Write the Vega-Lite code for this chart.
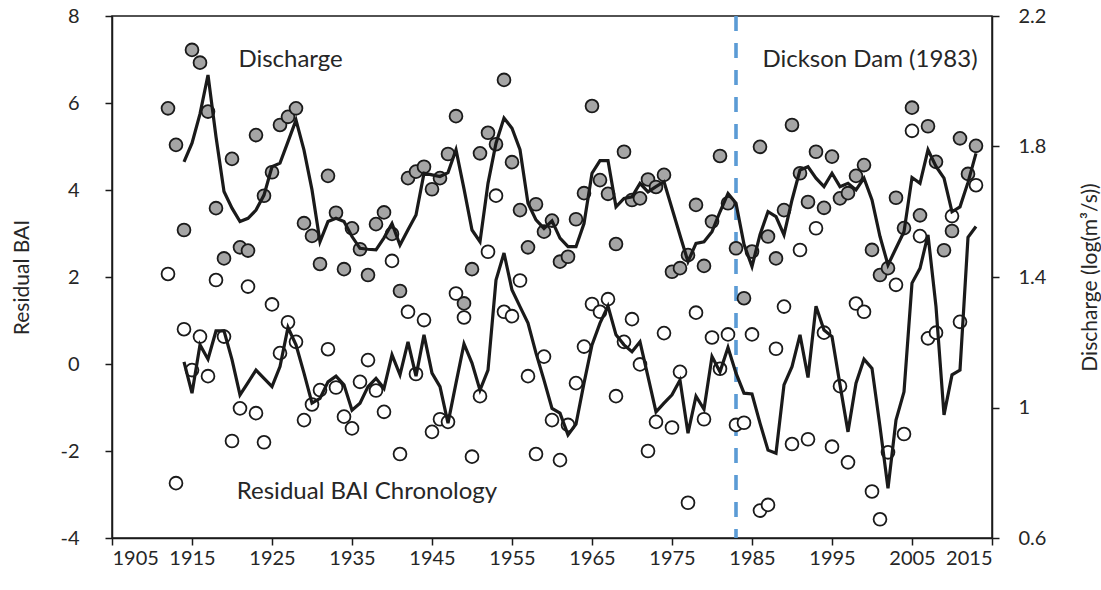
{
  "$schema": "https://vega.github.io/schema/vega-lite/v6.json",
  "width": 880,
  "height": 522,
  "autosize": "none",
  "padding": {"left": 112, "top": 16, "right": 109, "bottom": 52},
  "background": "white",
  "config": {
    "view": {"stroke": "#1a1a1a", "strokeWidth": 1.5},
    "font": "Lato",
    "scale": {"zero": false},
    "axis": {"grid": false, "domainColor": "#1a1a1a", "domainWidth": 1.5, "tickColor": "#1a1a1a", "tickWidth": 1.5, "tickSize": 7, "labelFont": "Lato", "labelFontSize": 20, "labelColor": "#262626", "titleFont": "Lato", "titleFontSize": 21, "titleFontWeight": "normal", "titleColor": "#262626"}
  },
  "datasets": {
    "bai": [
      {"year":1912,"bai":2.07},{"year":1913,"bai":-2.74},{"year":1914,"bai":0.80},{"year":1915,"bai":-0.14},{"year":1916,"bai":0.63},{"year":1917,"bai":-0.28},{"year":1918,"bai":1.93},{"year":1919,"bai":0.63},{"year":1920,"bai":-1.77},{"year":1921,"bai":-1.02},{"year":1922,"bai":1.78},{"year":1923,"bai":-1.13},{"year":1924,"bai":-1.80},{"year":1925,"bai":1.37},{"year":1926,"bai":0.25},{"year":1927,"bai":0.96},{"year":1928,"bai":0.51},{"year":1929,"bai":-1.29},{"year":1930,"bai":-0.93},{"year":1931,"bai":-0.60},{"year":1932,"bai":0.34},{"year":1933,"bai":-0.54},{"year":1934,"bai":-1.21},{"year":1935,"bai":-1.48},{"year":1936,"bai":-0.41},{"year":1937,"bai":0.09},{"year":1938,"bai":-0.61},{"year":1939,"bai":-1.10},{"year":1940,"bai":2.37},{"year":1941,"bai":-2.07},{"year":1942,"bai":1.20},{"year":1943,"bai":-0.23},{"year":1944,"bai":1.01},{"year":1945,"bai":-1.56},{"year":1946,"bai":-1.27},{"year":1947,"bai":-1.33},{"year":1948,"bai":1.62},{"year":1949,"bai":1.07},{"year":1950,"bai":-2.13},{"year":1951,"bai":-0.74},{"year":1952,"bai":2.58},{"year":1953,"bai":3.87},{"year":1954,"bai":1.20},{"year":1955,"bai":1.10},{"year":1956,"bai":1.92},{"year":1957,"bai":-0.28},{"year":1958,"bai":-2.07},{"year":1959,"bai":0.17},{"year":1960,"bai":-1.29},{"year":1961,"bai":-2.21},{"year":1962,"bai":-1.40},{"year":1963,"bai":-0.44},{"year":1964,"bai":0.40},{"year":1965,"bai":1.38},{"year":1966,"bai":1.20},{"year":1967,"bai":1.49},{"year":1968,"bai":-0.74},{"year":1969,"bai":0.51},{"year":1970,"bai":1.03},{"year":1971,"bai":-0.01},{"year":1972,"bai":-2.00},{"year":1973,"bai":-1.33},{"year":1974,"bai":0.71},{"year":1975,"bai":-1.46},{"year":1976,"bai":-0.18},{"year":1977,"bai":-3.19},{"year":1978,"bai":1.18},{"year":1979,"bai":-1.27},{"year":1980,"bai":0.61},{"year":1981,"bai":-0.11},{"year":1982,"bai":0.68},{"year":1983,"bai":-1.40},{"year":1984,"bai":-1.35},{"year":1985,"bai":0.68},{"year":1986,"bai":-3.37},{"year":1987,"bai":-3.24},{"year":1988,"bai":0.35},{"year":1989,"bai":1.32},{"year":1990,"bai":-1.84},{"year":1991,"bai":2.62},{"year":1992,"bai":-1.73},{"year":1993,"bai":3.12},{"year":1994,"bai":0.72},{"year":1995,"bai":-1.90},{"year":1996,"bai":-0.51},{"year":1997,"bai":-2.26},{"year":1998,"bai":1.39},{"year":1999,"bai":1.20},{"year":2000,"bai":-2.93},{"year":2001,"bai":-3.57},{"year":2002,"bai":-2.03},{"year":2003,"bai":1.82},{"year":2004,"bai":-1.61},{"year":2005,"bai":5.36},{"year":2006,"bai":2.94},{"year":2007,"bai":0.59},{"year":2008,"bai":0.72},{"year":2010,"bai":3.40},{"year":2011,"bai":0.97},{"year":2013,"bai":4.11}
    ],
    "baiLine": [
      {"year":1914,"v":0.05},{"year":1915,"v":-0.67},{"year":1916,"v":0.44},{"year":1917,"v":0.11},{"year":1918,"v":0.76},{"year":1919,"v":0.76},{"year":1920,"v":0.10},{"year":1921,"v":-0.71},{"year":1922,"v":-0.43},{"year":1923,"v":-0.14},{"year":1924,"v":-0.33},{"year":1925,"v":-0.52},{"year":1926,"v":-0.06},{"year":1927,"v":0.84},{"year":1928,"v":0.44},{"year":1929,"v":-0.21},{"year":1930,"v":-0.90},{"year":1931,"v":-0.79},{"year":1932,"v":-0.41},{"year":1933,"v":-0.28},{"year":1934,"v":-0.48},{"year":1935,"v":-1.06},{"year":1936,"v":-0.90},{"year":1937,"v":-0.52},{"year":1938,"v":-0.33},{"year":1939,"v":-0.56},{"year":1940,"v":0.21},{"year":1941,"v":-0.25},{"year":1942,"v":0.51},{"year":1943,"v":-0.28},{"year":1944,"v":0.67},{"year":1945,"v":-0.21},{"year":1946,"v":-0.52},{"year":1947,"v":-1.36},{"year":1948,"v":-0.44},{"year":1949,"v":0.46},{"year":1950,"v":0.02},{"year":1951,"v":-0.60},{"year":1952,"v":-0.14},{"year":1953,"v":1.93},{"year":1954,"v":2.55},{"year":1955,"v":1.70},{"year":1956,"v":1.32},{"year":1957,"v":0.94},{"year":1958,"v":0.25},{"year":1959,"v":-0.37},{"year":1960,"v":-1.02},{"year":1961,"v":-1.13},{"year":1962,"v":-1.63},{"year":1963,"v":-1.38},{"year":1964,"v":-0.44},{"year":1965,"v":0.44},{"year":1966,"v":0.94},{"year":1967,"v":1.33},{"year":1968,"v":0.67},{"year":1969,"v":0.44},{"year":1970,"v":0.28},{"year":1971,"v":0.51},{"year":1972,"v":-0.29},{"year":1973,"v":-1.10},{"year":1974,"v":-0.90},{"year":1975,"v":-0.71},{"year":1976,"v":-0.37},{"year":1977,"v":-1.59},{"year":1978,"v":-0.74},{"year":1979,"v":-1.04},{"year":1980,"v":0.17},{"year":1981,"v":-0.18},{"year":1982,"v":0.38},{"year":1983,"v":-0.21},{"year":1984,"v":-0.67},{"year":1985,"v":-0.69},{"year":1986,"v":-1.36},{"year":1987,"v":-1.98},{"year":1988,"v":-2.05},{"year":1989,"v":-0.48},{"year":1990,"v":-0.06},{"year":1991,"v":0.67},{"year":1992,"v":-0.31},{"year":1993,"v":1.33},{"year":1994,"v":0.78},{"year":1995,"v":0.63},{"year":1996,"v":-0.48},{"year":1997,"v":-1.56},{"year":1998,"v":-0.44},{"year":1999,"v":0.11},{"year":2000,"v":-0.10},{"year":2001,"v":-1.44},{"year":2002,"v":-2.86},{"year":2003,"v":-1.29},{"year":2004,"v":-0.64},{"year":2005,"v":1.86},{"year":2006,"v":2.20},{"year":2007,"v":2.97},{"year":2008,"v":1.32},{"year":2009,"v":-1.17},{"year":2010,"v":-0.25},{"year":2011,"v":-0.14},{"year":2012,"v":2.91},{"year":2013,"v":3.16}
    ],
    "dis": [
      {"year":1912,"d":1.917},{"year":1913,"d":1.805},{"year":1914,"d":1.544},{"year":1915,"d":2.096},{"year":1916,"d":2.057},{"year":1917,"d":1.907},{"year":1918,"d":1.611},{"year":1919,"d":1.457},{"year":1920,"d":1.762},{"year":1921,"d":1.491},{"year":1922,"d":1.481},{"year":1923,"d":1.835},{"year":1924,"d":1.649},{"year":1925,"d":1.721},{"year":1926,"d":1.866},{"year":1927,"d":1.891},{"year":1928,"d":1.917},{"year":1929,"d":1.565},{"year":1930,"d":1.526},{"year":1931,"d":1.440},{"year":1932,"d":1.710},{"year":1933,"d":1.597},{"year":1934,"d":1.424},{"year":1935,"d":1.549},{"year":1936,"d":1.485},{"year":1937,"d":1.406},{"year":1938,"d":1.562},{"year":1939,"d":1.598},{"year":1940,"d":1.532},{"year":1941,"d":1.357},{"year":1942,"d":1.703},{"year":1943,"d":1.723},{"year":1944,"d":1.738},{"year":1945,"d":1.669},{"year":1946,"d":1.703},{"year":1947,"d":1.777},{"year":1948,"d":1.893},{"year":1949,"d":1.319},{"year":1950,"d":1.424},{"year":1951,"d":1.779},{"year":1952,"d":1.842},{"year":1953,"d":1.807},{"year":1954,"d":2.004},{"year":1955,"d":1.752},{"year":1956,"d":1.605},{"year":1957,"d":1.491},{"year":1958,"d":1.623},{"year":1959,"d":1.539},{"year":1960,"d":1.573},{"year":1961,"d":1.447},{"year":1962,"d":1.462},{"year":1963,"d":1.577},{"year":1964,"d":1.657},{"year":1965,"d":1.924},{"year":1966,"d":1.697},{"year":1967,"d":1.655},{"year":1968,"d":1.501},{"year":1969,"d":1.784},{"year":1970,"d":1.636},{"year":1971,"d":1.641},{"year":1972,"d":1.699},{"year":1973,"d":1.676},{"year":1974,"d":1.713},{"year":1975,"d":1.416},{"year":1976,"d":1.427},{"year":1977,"d":1.467},{"year":1978,"d":1.621},{"year":1979,"d":1.434},{"year":1980,"d":1.570},{"year":1981,"d":1.771},{"year":1982,"d":1.626},{"year":1983,"d":1.488},{"year":1984,"d":1.335},{"year":1985,"d":1.478},{"year":1986,"d":1.799},{"year":1987,"d":1.524},{"year":1988,"d":1.457},{"year":1989,"d":1.605},{"year":1990,"d":1.866},{"year":1991,"d":1.718},{"year":1992,"d":1.630},{"year":1993,"d":1.784},{"year":1994,"d":1.612},{"year":1995,"d":1.769},{"year":1996,"d":1.641},{"year":1997,"d":1.657},{"year":1998,"d":1.710},{"year":1999,"d":1.743},{"year":2000,"d":1.483},{"year":2001,"d":1.406},{"year":2002,"d":1.427},{"year":2003,"d":1.643},{"year":2004,"d":1.550},{"year":2005,"d":1.919},{"year":2006,"d":1.589},{"year":2007,"d":1.862},{"year":2008,"d":1.753},{"year":2009,"d":1.482},{"year":2010,"d":1.541},{"year":2011,"d":1.825},{"year":2012,"d":1.716},{"year":2013,"d":1.802}
    ],
    "disLine": [
      {"year":1914,"v":1.753},{"year":1915,"v":1.810},{"year":1916,"v":1.900},{"year":1917,"v":2.019},{"year":1918,"v":1.830},{"year":1919,"v":1.662},{"year":1920,"v":1.611},{"year":1921,"v":1.570},{"year":1922,"v":1.580},{"year":1923,"v":1.605},{"year":1924,"v":1.651},{"year":1925,"v":1.738},{"year":1926,"v":1.749},{"year":1927,"v":1.815},{"year":1928,"v":1.881},{"year":1929,"v":1.789},{"year":1930,"v":1.667},{"year":1931,"v":1.508},{"year":1932,"v":1.570},{"year":1933,"v":1.580},{"year":1934,"v":1.570},{"year":1935,"v":1.524},{"year":1936,"v":1.488},{"year":1937,"v":1.485},{"year":1938,"v":1.483},{"year":1939,"v":1.520},{"year":1940,"v":1.564},{"year":1941,"v":1.498},{"year":1942,"v":1.545},{"year":1943,"v":1.590},{"year":1944,"v":1.718},{"year":1945,"v":1.713},{"year":1946,"v":1.708},{"year":1947,"v":1.720},{"year":1948,"v":1.790},{"year":1949,"v":1.670},{"year":1950,"v":1.544},{"year":1951,"v":1.508},{"year":1952,"v":1.687},{"year":1953,"v":1.810},{"year":1954,"v":1.887},{"year":1955,"v":1.856},{"year":1956,"v":1.790},{"year":1957,"v":1.626},{"year":1958,"v":1.575},{"year":1959,"v":1.549},{"year":1960,"v":1.572},{"year":1961,"v":1.519},{"year":1962,"v":1.493},{"year":1963,"v":1.493},{"year":1964,"v":1.564},{"year":1965,"v":1.718},{"year":1966,"v":1.757},{"year":1967,"v":1.757},{"year":1968,"v":1.615},{"year":1969,"v":1.641},{"year":1970,"v":1.646},{"year":1971,"v":1.687},{"year":1972,"v":1.661},{"year":1973,"v":1.677},{"year":1974,"v":1.692},{"year":1975,"v":1.610},{"year":1976,"v":1.528},{"year":1977,"v":1.447},{"year":1978,"v":1.503},{"year":1979,"v":1.508},{"year":1980,"v":1.539},{"year":1981,"v":1.600},{"year":1982,"v":1.656},{"year":1983,"v":1.626},{"year":1984,"v":1.500},{"year":1985,"v":1.432},{"year":1986,"v":1.530},{"year":1987,"v":1.600},{"year":1988,"v":1.585},{"year":1989,"v":1.529},{"year":1990,"v":1.636},{"year":1991,"v":1.728},{"year":1992,"v":1.738},{"year":1993,"v":1.703},{"year":1994,"v":1.677},{"year":1995,"v":1.718},{"year":1996,"v":1.677},{"year":1997,"v":1.687},{"year":1998,"v":1.667},{"year":1999,"v":1.703},{"year":2000,"v":1.636},{"year":2001,"v":1.524},{"year":2002,"v":1.437},{"year":2003,"v":1.488},{"year":2004,"v":1.539},{"year":2005,"v":1.705},{"year":2006,"v":1.687},{"year":2007,"v":1.790},{"year":2008,"v":1.739},{"year":2009,"v":1.703},{"year":2010,"v":1.600},{"year":2011,"v":1.615},{"year":2012,"v":1.690},{"year":2013,"v":1.779}
    ],
    "notes": [
      {"year":1920.8,"val":7.0,"label":"Discharge"},
      {"year":1986.3,"val":7.0,"label":"Dickson Dam (1983)"},
      {"year":1920.6,"val":-2.95,"label":"Residual BAI Chronology"}
    ],
    "dam": [{"year":1983}]
  },
  "layer": [
    {
      "layer": [
        {
          "data": {"name": "dam"},
          "mark": {"type": "rule", "color": "#5B9BD5", "strokeWidth": 3.6, "strokeDash": [15, 12]},
          "encoding": {"x": {"field": "year", "type": "quantitative", "scale": {"domain": [1905, 2015], "nice": false, "zero": false}}}
        },
        {
          "data": {"name": "bai"},
          "mark": {"type": "point", "shape": "circle", "filled": true, "fill": "white", "stroke": "#1a1a1a", "strokeWidth": 1.8, "size": 165, "opacity": 1},
          "encoding": {
            "x": {"field": "year", "type": "quantitative", "scale": {"domain": [1905, 2015], "nice": false, "zero": false}, "axis": {"values": [1905,1915,1925,1935,1945,1955,1965,1975,1985,1995,2005,2015], "format": "d", "title": null, "labelPadding": 3}},
            "y": {"field": "bai", "type": "quantitative", "scale": {"domain": [-4, 8], "nice": false, "zero": false}, "axis": {"orient": "left", "values": [-4,-2,0,2,4,6,8], "labelExpr": "datum.value < 0 ? '-' + abs(datum.value) : '' + datum.value", "title": "Residual BAI", "labelPadding": 26, "titleX": -90, "titleY": 261, "titleAngle": -90, "titleAlign": "center", "titleBaseline": "middle"}}
          }
        },
        {
          "data": {"name": "baiLine"},
          "mark": {"type": "line", "color": "#1a1a1a", "strokeWidth": 3.2},
          "encoding": {
            "x": {"field": "year", "type": "quantitative", "scale": {"domain": [1905, 2015], "nice": false, "zero": false}},
            "y": {"field": "v", "type": "quantitative"}
          }
        },
        {
          "data": {"name": "notes"},
          "mark": {"type": "text", "align": "left", "baseline": "middle", "fontSize": 24, "font": "Lato", "color": "#262626"},
          "encoding": {
            "x": {"field": "year", "type": "quantitative", "scale": {"domain": [1905, 2015], "nice": false, "zero": false}},
            "y": {"field": "val", "type": "quantitative"},
            "text": {"field": "label"}
          }
        }
      ]
    },
    {
      "layer": [
        {
          "data": {"name": "dis"},
          "mark": {"type": "point", "shape": "circle", "filled": true, "fill": "#A5A5A5", "stroke": "#1a1a1a", "strokeWidth": 1.8, "size": 165, "opacity": 1},
          "encoding": {
            "x": {"field": "year", "type": "quantitative", "scale": {"domain": [1905, 2015], "nice": false, "zero": false}},
            "y": {"field": "d", "type": "quantitative", "scale": {"domain": [0.6, 2.2], "nice": false, "zero": false}, "axis": {"orient": "right", "values": [0.6, 1, 1.4, 1.8, 2.2], "format": "~g", "title": "Discharge (log(m³/s))", "labelPadding": 19, "titleX": 98, "titleY": 261, "titleAngle": -90, "titleAlign": "center", "titleBaseline": "middle"}}
          }
        },
        {
          "data": {"name": "disLine"},
          "mark": {"type": "line", "color": "#1a1a1a", "strokeWidth": 3.2},
          "encoding": {
            "x": {"field": "year", "type": "quantitative", "scale": {"domain": [1905, 2015], "nice": false, "zero": false}},
            "y": {"field": "v", "type": "quantitative"}
          }
        }
      ]
    }
  ],
  "resolve": {"scale": {"y": "independent"}}
}
